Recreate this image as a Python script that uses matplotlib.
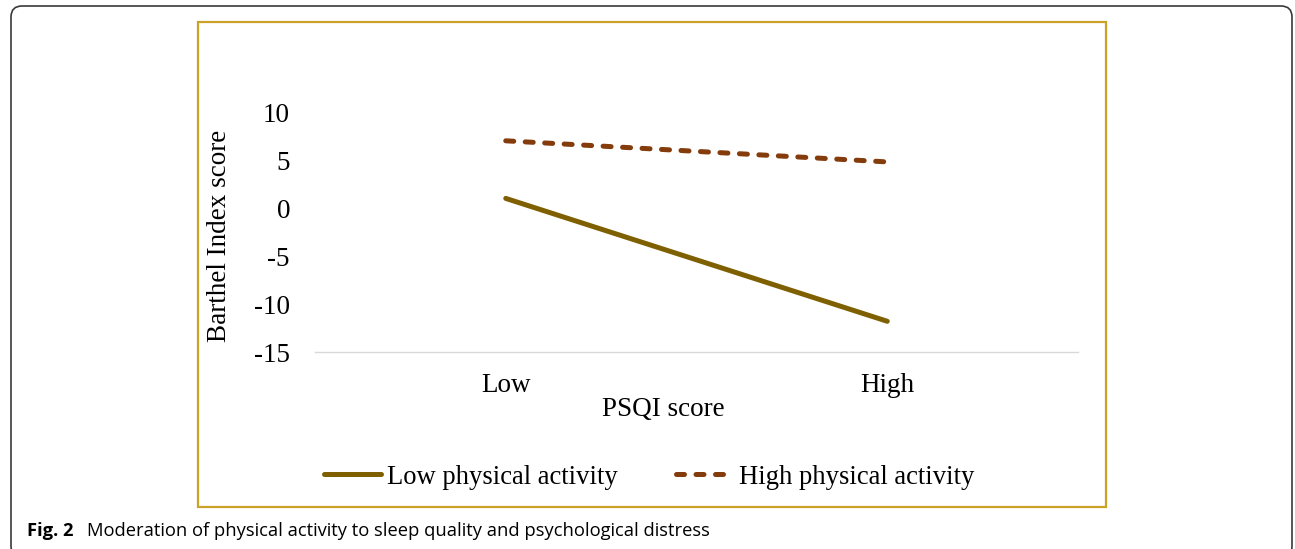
import matplotlib
matplotlib.use("Agg")
import matplotlib.pyplot as plt
from matplotlib.patches import FancyBboxPatch, Rectangle
from matplotlib.transforms import IdentityTransform

# data
psqi_levels = ["Low", "High"]
low_pa = [1.0, -11.8]
high_pa = [7.0, 4.8]
y_ticks = [10, 5, 0, -5, -10, -15]

W, H = 1295, 549
fig = plt.figure(figsize=(W / 100, H / 100), dpi=100)

def px(x0, y0, x1, y1):
    # pixel box (top-left origin) -> figure fraction rect
    return [x0 / W, 1 - y1 / H, (x1 - x0) / W, (y1 - y0) / H]

# outer rounded frame, drawn in pixels (bottom edge runs off the page)
fig.patches.append(FancyBboxPatch((11, -8), 1281, H - 6 + 8,
                                  boxstyle="round,pad=0,rounding_size=11",
                                  transform=IdentityTransform(), fill=False,
                                  edgecolor="#3a3a3a", linewidth=1.2))

# golden chart border
r = px(198, 22, 1106, 507)
fig.patches.append(Rectangle((r[0], r[1]), r[2], r[3], transform=fig.transFigure,
                             fill=False, edgecolor="#C9A227", linewidth=1.6))

serif = "Liberation Serif"
fs = 19.5
ax = fig.add_axes(px(315, 112, 1078, 352))
x = [0.5, 1.5]
ax.plot(x, low_pa, color="#7F6000", linewidth=3.6, solid_capstyle="round",
        label="Low physical activity")
ax.plot(x, high_pa, color="#843C0C", linewidth=3.6, linestyle=(0, (1.6, 2.3)),
        dash_capstyle="round", label="High physical activity")

ax.set_xlim(0, 2)
ax.set_ylim(-15, 10)
ax.set_yticks(y_ticks)
ax.set_yticklabels([str(v) for v in y_ticks], fontfamily=serif, fontsize=fs)
ax.set_xticks(x)
ax.set_xticklabels(psqi_levels, fontfamily=serif, fontsize=fs)
ax.tick_params(axis="y", length=0, pad=18)
ax.tick_params(axis="x", length=0, pad=15)
for s in ["top", "right", "left"]:
    ax.spines[s].set_visible(False)
ax.spines["bottom"].set_color("#D9D9D9")
ax.spines["bottom"].set_linewidth(1.0)
ax.set_ylabel("Barthel Index score", fontfamily=serif, fontsize=fs, va="center")
ax.yaxis.set_label_coords((220 - 315) / 763, 1 - (236 - 112) / 240)
ax.set_xlabel("PSQI score", fontfamily=serif, fontsize=fs, va="center")
ax.xaxis.set_label_coords((663 - 315) / 763, -(410 - 352) / 240)

fig.legend(loc="center", bbox_to_anchor=(649 / W, 1 - 477 / H), ncol=2,
           frameon=False, prop={"family": serif, "size": 19.2},
           handlelength=2.15, handletextpad=0.2, columnspacing=2.2)

fig.text(27 / W, 1 - 531 / H, "Fig. 2", fontfamily="Open Sans", fontweight="bold",
         fontsize=13.2, va="center")
fig.text(87 / W, 1 - 531 / H,
         "Moderation of physical activity to sleep quality and psychological distress",
         fontfamily="Open Sans", fontsize=13.2, va="center")

fig.savefig("out.png", dpi=100)
